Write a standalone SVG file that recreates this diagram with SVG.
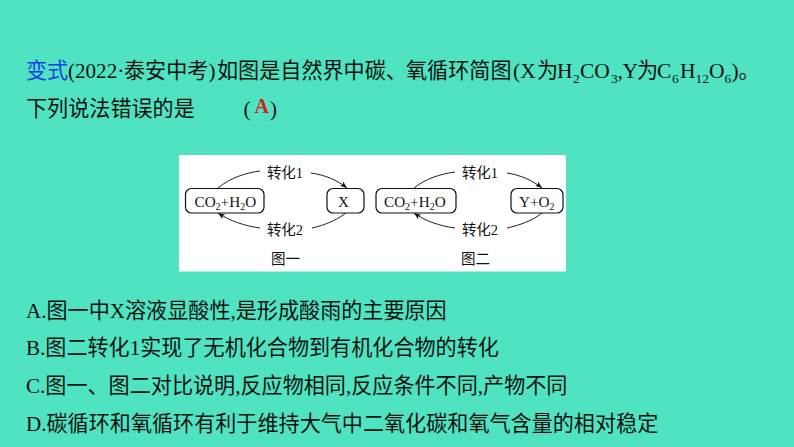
<svg xmlns="http://www.w3.org/2000/svg" width="794" height="447" viewBox="0 0 794 447">
<style>
text{font-family:"Liberation Serif","Noto Sans CJK SC",serif;fill:#0a1210}
.t{font-size:21.1px}
.l{font-size:21.5px}
.s{font-size:13.5px}
.d{font-size:15.2px;fill:#111}
.ds{font-size:10px;fill:#111}
.c2{font-size:14.5px;fill:#111}
.box{fill:#fff;stroke:#111;stroke-width:1.2}
.c{fill:none;stroke:#222;stroke-width:1;marker-end:url(#a)}
.n{fill:none;stroke:#222;stroke-width:1}
</style>
<defs>
<marker id="a" markerUnits="userSpaceOnUse" markerWidth="8" markerHeight="6" refX="7" refY="3" orient="auto"><path d="M0 .3L7 3L0 5.7L1.8 3Z" fill="#111"/></marker>
</defs>
<rect width="794" height="447" fill="#50e3c2"/>
<g id="question">
<text class="t" x="26" y="77.500" style="fill:#1a3fe0">变式</text>
<text class="t" x="68" y="77.500">(2022·</text>
<text class="t" x="124" y="77.500">泰安中考)</text>
<text class="t" x="217" y="77.500">如图是自然界中碳、</text>
<text class="t" x="406" y="77.500">氧循环简图</text>
<text class="l" x="513" y="77.500">(X</text>
<text class="t" x="537" y="77.500">为</text>
<text class="l" x="557" y="77.500">H</text>
<text class="s" x="573" y="83">2</text>
<text class="l" x="580" y="77.500">CO</text>
<text class="s" x="611" y="83">3</text>
<text class="l" x="617.500" y="77.500">,</text>
<text class="l" x="622.500" y="77.500">Y</text>
<text class="t" x="637" y="77.500">为</text>
<text class="l" x="657" y="77.500">C</text>
<text class="s" x="672" y="83">6</text>
<text class="l" x="680" y="77.500">H</text>
<text class="s" x="695.500" y="83">12</text>
<text class="l" x="709" y="77.500">O</text>
<text class="s" x="724.500" y="83">6</text>
<text class="l" x="731.500" y="77.500">)</text>
<text class="t" x="738.500" y="77.500">。</text>
<text class="t" x="26" y="116">下列说法错误的是</text>
<text class="t" x="243.500" y="116">(</text>
<text x="254.500" y="112.500" style="font-size:20px;font-weight:bold;fill:#d0201a">A</text>
<text class="t" x="270" y="116">)</text>
</g>
<rect id="figure" x="179" y="155" width="387" height="116.500" fill="#fff"/>
<g id="connectors">
<path class="n" d="M218 188C230 178 245 173 260 171"/>
<path class="c" d="M311 173C325 175 337 180 347 188"/>
<path class="n" d="M346 213C335 221 325 225 312 228"/>
<path class="c" d="M260 228C245 226 230 221 218 213"/>
<path class="n" d="M414 188C425 179 440 174 455 172"/>
<path class="c" d="M507 173C520 175 532 180 542 188"/>
<path class="n" d="M542 213C532 221 520 225 507 228"/>
<path class="c" d="M455 228C440 226 425 221 414 213"/>
</g>
<g id="n1"><rect class="box" x="185.500" y="188.500" width="78.500" height="24.500" rx="6"/><text class="d" x="194.500" y="206.500">CO<tspan class="ds" dy="3">2</tspan><tspan dy="-3">+H</tspan><tspan class="ds" dy="3">2</tspan><tspan dy="-3">O</tspan></text></g>
<g id="n2"><rect class="box" x="327" y="188.500" width="37" height="24.500" rx="6"/><text class="d" x="343.500" y="206.500" text-anchor="middle">X</text></g>
<g id="n3"><rect class="box" x="376" y="188.500" width="80" height="24.500" rx="6"/><text class="d" x="384" y="206.500">CO<tspan class="ds" dy="3">2</tspan><tspan dy="-3">+H</tspan><tspan class="ds" dy="3">2</tspan><tspan dy="-3">O</tspan></text></g>
<g id="n4"><rect class="box" x="511" y="188.500" width="52" height="24.500" rx="6"/><text class="d" x="519" y="206.500">Y+O<tspan class="ds" dy="3">2</tspan></text></g>
<g id="labels">
<text class="c2" x="285" y="177.500" text-anchor="middle">转化1</text>
<text class="c2" x="285" y="234.500" text-anchor="middle">转化2</text>
<text class="c2" x="480" y="177.500" text-anchor="middle">转化1</text>
<text class="c2" x="480" y="234.500" text-anchor="middle">转化2</text>
<text class="c2" x="285.500" y="263.500" text-anchor="middle">图一</text>
<text class="c2" x="475.500" y="263.500" text-anchor="middle">图二</text>
</g>
<g id="options">
<text class="t" x="26" y="317.500">A.图一中X溶液显酸性,是形成酸雨的主要原因</text>
<text class="t" x="26" y="355">B.图二转化1实现了无机化合物到有机化合物的转化</text>
<text class="t" x="26" y="393">C.图一、图二对比说明,反应物相同,反应条件不同,产物不同</text>
<text class="t" x="26" y="430.500">D.碳循环和氧循环有利于维持大气中二氧化碳和氧气含量的相对稳定</text>
</g>
</svg>
